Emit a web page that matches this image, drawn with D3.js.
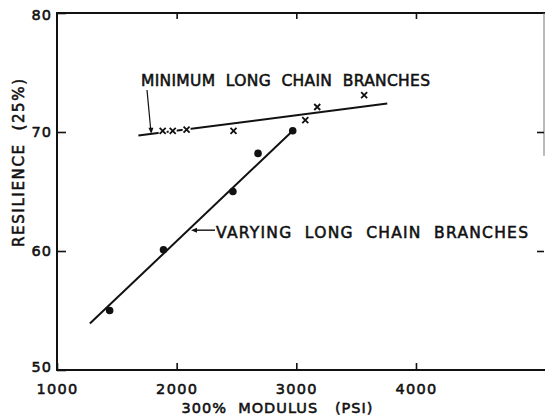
<!DOCTYPE html>
<html><head><meta charset="utf-8">
<script src="https://cdn.jsdelivr.net/npm/d3@7"></script>
<style>body{margin:0;background:#fff}svg{display:block}text{font-family:"DejaVu Sans",sans-serif;font-weight:normal;fill:#111;stroke:#111;stroke-width:0.55px}</style>
</head><body><svg id="c" width="545" height="416"></svg>
<script>
const xTicks = [1000, 2000, 3000, 4000];
const yTicks = [50, 60, 70, 80];
const minX = [1883, 1967, 2083, 2475, 3075, 3175, 3567];
const minY = [70.1, 70.1, 70.2, 70.1, 71.0, 72.1, 73.1];
const varX = [1440, 1890, 2470, 2680, 2970];
const varY = [55.0, 60.1, 65.0, 68.2, 70.1];
const minFitX = [1680, 3760];
const minFitY = [69.7, 72.4];
const varFitX = [1275, 2990];
const varFitY = [53.9, 70.3];
const labelMin = "MINIMUM  LONG  CHAIN  BRANCHES";
const labelVar = "VARYING  LONG  CHAIN  BRANCHES";
const xTitle = "300%  MODULUS   (PSI)";
const yTitle = "RESILIENCE  (25%)";

const svg = d3.select("#c");
const x = d3.scaleLinear().domain([1000, 5070]).range([57, 544]);
const y = d3.scaleLinear().domain([50, 80]).range([370, 13]);
const ink = "#111";

// frame
svg.append("line").attr("x1", 57).attr("x2", 57).attr("y1", y(80)).attr("y2", y(50)).attr("stroke", ink).attr("stroke-width", 2);
svg.append("line").attr("x1", 56).attr("x2", 545).attr("y1", y(50)).attr("y2", y(50)).attr("stroke", ink).attr("stroke-width", 2);
svg.append("line").attr("x1", 56).attr("x2", 545).attr("y1", y(80)).attr("y2", y(80)).attr("stroke", ink).attr("stroke-width", 2);
svg.append("line").attr("x1", 544).attr("x2", 544).attr("y1", y(80)).attr("y2", y(68)).attr("stroke", "#777").attr("stroke-width", 1);

// bottom axis
const xb = svg.append("g").attr("transform", `translate(0,${y(50)})`)
  .call(d3.axisBottom(x).tickValues(xTicks).tickSize(-7).tickPadding(14).tickFormat(d3.format("d")));
xb.select(".domain").remove();
xb.selectAll(".tick line").attr("stroke", ink).attr("stroke-width", 1.6);
xb.selectAll(".tick text").attr("font-size", 14.5).attr("letter-spacing", 1.3).attr("fill", ink).attr("font-family", "DejaVu Sans").attr("font-weight", "normal");

// top ticks
const xt = svg.append("g").attr("transform", `translate(0,${y(80)})`)
  .call(d3.axisTop(x).tickValues(xTicks.slice(1)).tickSize(-6).tickFormat(""));
xt.select(".domain").remove();
xt.selectAll(".tick line").attr("stroke", ink).attr("stroke-width", 1.6);

// left axis
const yl = svg.append("g").attr("transform", `translate(57,0)`)
  .call(d3.axisLeft(y).tickValues(yTicks).tickSize(-9).tickPadding(5).tickFormat(d3.format("d")));
yl.select(".domain").remove();
yl.selectAll(".tick line").attr("stroke", ink).attr("stroke-width", 1.6);
yl.selectAll(".tick text").attr("font-size", 14.5).attr("letter-spacing", 1).attr("fill", ink).attr("font-family", "DejaVu Sans").attr("font-weight", "normal");
yl.selectAll(".tick").filter(d => d === 50).select("text").attr("dy", "0.1em");
yl.selectAll(".tick").filter(d => d === 80).select("text").attr("dy", "0.45em");

// right ticks
const yr = svg.append("g").attr("transform", `translate(544,0)`)
  .call(d3.axisRight(y).tickValues([60, 70]).tickSize(-7).tickFormat(""));
yr.select(".domain").remove();
yr.selectAll(".tick line").attr("stroke", ink).attr("stroke-width", 1.6);

// axis titles
svg.append("text").attr("x", 277).attr("y", 413).attr("text-anchor", "middle")
  .attr("font-size", 14.5).attr("textLength", 191).attr("lengthAdjust", "spacing").attr("xml:space", "preserve").text(xTitle);
svg.append("text").attr("transform", "translate(24,163) rotate(-90)").attr("text-anchor", "middle")
  .attr("font-size", 15).attr("textLength", 168).attr("lengthAdjust", "spacing").attr("xml:space", "preserve").text(yTitle);

// fit lines
const line = d3.line().x(d => x(d[0])).y(d => y(d[1]));
svg.append("path").attr("d", line(d3.zip(minFitX, minFitY))).attr("fill", "none").attr("stroke", ink).attr("stroke-width", 2);
svg.append("path").attr("d", line(d3.zip(varFitX, varFitY))).attr("fill", "none").attr("stroke", ink).attr("stroke-width", 2);

// varying points
svg.selectAll("circle.v").data(d3.zip(varX, varY)).join("circle").attr("class", "v")
  .attr("cx", d => x(d[0])).attr("cy", d => y(d[1])).attr("r", 3.8).attr("fill", ink);

// minimum points (x markers)
const s = 3;
const mg = svg.selectAll("g.m").data(d3.zip(minX, minY)).join("g").attr("class", "m")
  .attr("transform", d => `translate(${x(d[0])},${y(d[1])})`);
mg.append("rect").attr("x", -s - 1).attr("y", -s - 1).attr("width", 2 * s + 2).attr("height", 2 * s + 2).attr("fill", "#fff");
mg.append("path").attr("d", `M${-s},${-s}L${s},${s}M${s},${-s}L${-s},${s}`).attr("stroke", ink).attr("stroke-width", 1.8);

// annotations
svg.append("text").attr("x", 141).attr("y", 86).attr("font-size", 15.5).attr("textLength", 289)
  .attr("lengthAdjust", "spacing").attr("xml:space", "preserve").text(labelMin);
// arrow for minimum
svg.append("line").attr("x1", 147).attr("y1", 90).attr("x2", x(1785)).attr("y2", y(69.85) - 2).attr("stroke", ink).attr("stroke-width", 1.2);
svg.append("path").attr("d", d3.line()([[x(1785) - 2.5, y(69.85) - 6], [x(1785) + 2.5, y(69.85) - 6], [x(1785) + 0.3, y(69.85)]])).attr("fill", ink);

svg.append("text").attr("x", 216).attr("y", 238).attr("font-size", 15.5).attr("textLength", 312)
  .attr("lengthAdjust", "spacing").attr("xml:space", "preserve").text(labelVar);
// arrow for varying
const ax = x(2120), ay = y(61.75);
svg.append("line").attr("x1", 215).attr("y1", ay).attr("x2", ax + 3).attr("y2", ay).attr("stroke", ink).attr("stroke-width", 1.4);
svg.append("path").attr("d", d3.line()([[ax, ay], [ax + 6, ay - 2.5], [ax + 6, ay + 2.5]])).attr("fill", ink);
</script></body></html>
